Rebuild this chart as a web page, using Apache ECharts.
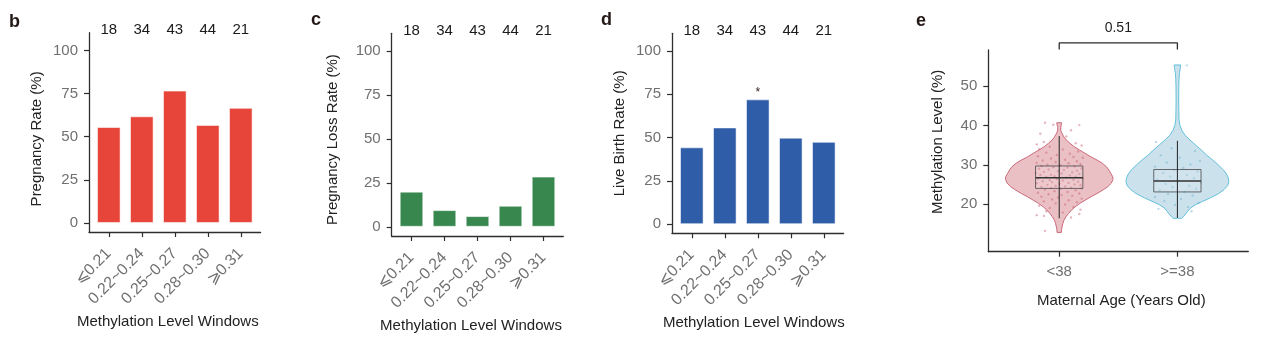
<!DOCTYPE html>
<html><head><meta charset="utf-8">
<script src="https://cdn.jsdelivr.net/npm/echarts@6/dist/echarts.min.js"></script>
<style>html,body{margin:0;padding:0;background:#fff}#c{width:1267px;height:340px}</style>
</head><body><div id="c"></div>
<script>
// ---------------- data ----------------
const windows = ['⩽0.21', '0.22~0.24', '0.25~0.27', '0.28~0.30', '⩾0.31'];
const counts = [18, 34, 43, 44, 21];
const pregnancyRate = [55.6, 61.8, 76.7, 56.8, 66.7];
const lossRate = [20.0, 9.5, 6.1, 12.0, 28.6];
const liveBirthRate = [44.4, 55.9, 72.1, 50.0, 47.6];
const liveBirthSig = ['', '', '*', '', ''];
const rateTicks = [0, 25, 50, 75, 100];

const ageGroups = ['<38', '>=38'];
const methTicks = [20, 30, 40, 50];
// box stats: [lower whisker, q1, median, q3, upper whisker]
const boxLow = [16.4, 24.0, 26.7, 29.7, 37.3];
const boxHigh = [16.5, 23.1, 25.9, 28.8, 36.1];
// violin outline: value and half-width (x units)
const lowViolinY = [12.8, 13.5, 14.2, 15.0, 15.9, 16.8, 17.6, 18.5, 19.3, 20.2, 21.0, 21.9, 22.7, 23.6, 24.4, 25.3, 26.3, 27.0, 27.8, 28.7, 29.5, 30.4, 31.2, 32.0, 32.9, 33.8, 34.6, 35.5, 36.3, 37.0, 37.6, 38.2, 38.8, 39.5, 40.2, 40.7];
const lowViolinW = [0.018, 0.020, 0.024, 0.030, 0.040, 0.058, 0.078, 0.105, 0.135, 0.175, 0.22, 0.27, 0.32, 0.37, 0.41, 0.44, 0.455, 0.452, 0.437, 0.42, 0.40, 0.365, 0.32, 0.27, 0.22, 0.17, 0.127, 0.09, 0.06, 0.042, 0.03, 0.02, 0.013, 0.013, 0.018, 0.021];
const highViolinY = [16.4, 16.8, 17.5, 18.2, 18.9, 19.8, 20.6, 21.6, 22.7, 23.7, 24.7, 25.7, 26.7, 27.7, 28.7, 30.0, 31.2, 32.4, 33.7, 35.0, 36.3, 37.5, 38.8, 40.0, 41.4, 44.0, 47.0, 50.0, 52.0, 53.5, 54.5, 55.4];
const highViolinW = [0.035, 0.05, 0.07, 0.088, 0.106, 0.15, 0.205, 0.28, 0.35, 0.395, 0.425, 0.435, 0.43, 0.415, 0.39, 0.345, 0.30, 0.25, 0.205, 0.155, 0.106, 0.065, 0.037, 0.022, 0.014, 0.012, 0.011, 0.012, 0.014, 0.018, 0.024, 0.028];
// jittered points: [x offset from group centre, value]
const lowJitter = [[-0.12,40.7],[-0.05,40.2],[0.17,40.1],[0.10,38.8],[-0.16,37.9],[0.06,37.2],[-0.13,35.8],[-0.19,35.2],[0.14,35.5],[0.19,34.9],[-0.08,34.6],[-0.17,34.0],[0.03,33.9],[0.16,33.4],[-0.11,33.1],[0.09,32.8],[-0.02,32.5],[-0.18,32.2],[0.12,32.0],[0.20,31.8],[-0.07,31.6],[0.05,31.3],[-0.14,31.1],[0.15,30.9],
[-0.03,30.7],[-0.19,30.5],[0.08,30.4],[0.18,30.2],[-0.10,30.0],[0.01,29.9],[-0.15,29.7],[0.13,29.6],[-0.05,29.4],[0.07,29.3],[0.19,29.1],[-0.17,29.0],[-0.09,28.8],[0.04,28.7],[0.15,28.5],[-0.01,28.4],[-0.13,28.2],[0.11,28.1],[-0.20,27.9],[0.02,27.8],[0.17,27.7],[-0.07,27.5],[-0.16,27.4],[0.09,27.3],[-0.04,27.1],[0.14,27.0],[-0.11,26.9],[0.06,26.8],[0.20,26.6],[-0.18,26.5],[-0.02,26.4],[0.12,26.2],[-0.08,26.1],[0.03,26.0],[-0.14,25.8],[0.16,25.7],[-0.06,25.6],[0.08,25.4],[-0.19,25.3],[0.00,25.2],[0.13,25.0],[-0.10,24.9],[0.18,24.8],[-0.03,24.6],[0.05,24.5],[-0.15,24.4],[0.10,24.2],[-0.07,24.1],[0.19,24.0],[0.01,23.9],
[-0.12,23.7],[0.14,23.5],[-0.04,23.3],[0.07,23.1],[-0.18,22.9],[0.17,22.7],[-0.09,22.5],[0.02,22.3],[0.11,22.1],[-0.15,21.9],[-0.01,21.7],[0.19,21.4],[-0.06,21.2],[0.08,21.0],[-0.13,20.7],[0.15,20.5],[-0.03,20.2],[0.05,19.9],[-0.17,19.6],[0.12,19.3],[-0.08,19.0],[0.18,18.6],[-0.11,18.2],[0.03,17.9],[0.17,17.5],[-0.19,17.2],[0.10,16.6],[-0.13,17.0],[-0.12,13.2]];
const highJitter = [[0.08,55.3],[-0.18,35.8],[-0.05,34.2],[0.15,33.5],[-0.14,32.4],[0.02,31.8],[0.19,31.0],[-0.09,30.6],[0.11,30.1],[-0.19,29.5],[0.05,29.2],[-0.03,28.7],[0.17,28.3],[-0.12,27.9],[0.08,27.4],[-0.06,27.0],[0.14,26.6],[-0.17,26.2],[0.01,25.8],[0.20,25.5],[-0.10,25.1],[0.10,24.7],[-0.04,24.3],[0.16,23.9],[-0.15,23.5],[0.06,23.1],[-0.08,22.6],[0.13,22.2],[-0.19,21.8],[0.03,21.3],[-0.11,20.8],[0.18,20.3],[-0.02,19.8],[0.09,19.3],[-0.16,18.8],[0.12,18.2]];
const bracketX = [1, 1, 2, 2];
const bracketY = [59.3, 61.0, 61.0, 59.3];
const pValue = '0.51';
const pValueY = 64.7;

// ---------------- chart ----------------
const FONT = '"Liberation Sans", Arial, Helvetica, sans-serif';
const AXISC = '#2e2e2e';
const TICKC = '#707070';
const chart = echarts.init(document.getElementById('c'));

const grids = [], xAxis = [], yAxis = [], series = [];
const panels = [
  { grid: { left: 89, top: 32.7, width: 171.6, height: 199.3 }, yName: 'Pregnancy Rate (%)', vals: pregnancyRate, color: '#E8453A', yGap: 45, yPad: [0, 13, 0, 0], xGap: 78, xPad: [0, 14, 0, 0] },
  { grid: { left: 391.7, top: 33.3, width: 171.6, height: 202.7 }, yName: 'Pregnancy Loss Rate (%)', vals: lossRate, color: '#37874F', yGap: 51, yPad: [0, 10, 0, 0], xGap: 76, xPad: [0, 13, 0, 0] },
  { grid: { left: 672, top: 33.3, width: 171.6, height: 200 }, yName: 'Live Birth Rate (%)', vals: liveBirthRate, color: '#2F5DA8', yGap: 44.5, yPad: [0, 0, 0, 0], xGap: 79, xPad: [0, 8, 0, 0], sig: liveBirthSig }
];
const catIdx = windows.map((_, i) => i + 1);

panels.forEach((p, gi) => {
  grids.push(Object.assign({ outerBoundsMode: 'none', containLabel: false }, p.grid));
  xAxis.push({
    type: 'value', gridIndex: gi, min: 0.4, max: 5.6, position: 'bottom',
    axisLine: { show: true, onZero: false, lineStyle: { color: AXISC, width: 1.3 } },
    axisTick: { show: true, customValues: catIdx, length: 5, lineStyle: { color: AXISC, width: 1.2 } },
    axisLabel: { customValues: catIdx, formatter: v => windows[Math.round(v) - 1], rotate: 45, margin: 19, padding: [9, 0, 0, 0], color: TICKC, fontSize: 16, fontFamily: FONT },
    splitLine: { show: false },
    name: 'Methylation Level Windows', nameLocation: 'middle', nameGap: p.xGap,
    nameTextStyle: { fontSize: 15, color: '#222', fontFamily: FONT, padding: p.xPad }
  });
  xAxis.push({
    type: 'value', gridIndex: gi, min: 0.4, max: 5.6, position: 'top',
    axisLine: { show: false }, axisTick: { show: false }, splitLine: { show: false },
    axisLabel: { customValues: catIdx, formatter: v => String(counts[Math.round(v) - 1]), margin: -5, color: '#1a1a1a', fontSize: 15, fontFamily: FONT }
  });
  yAxis.push({
    type: 'value', gridIndex: gi, min: -5.25, max: 110.25,
    axisLine: { show: true, onZero: false, lineStyle: { color: AXISC, width: 1.3 } },
    axisTick: { show: true, customValues: rateTicks, length: 5, lineStyle: { color: AXISC, width: 1.2 } },
    axisLabel: { customValues: rateTicks, margin: 11, color: TICKC, fontSize: 15, fontFamily: FONT },
    splitLine: { show: false },
    name: p.yName, nameLocation: 'middle', nameGap: p.yGap,
    nameTextStyle: { fontSize: 15, color: '#222', fontFamily: FONT, padding: p.yPad }
  });
  const sig = p.sig;
  series.push({
    type: 'bar', xAxisIndex: gi * 2, yAxisIndex: gi, barWidth: 23.6,
    data: p.vals.map((v, i) => [i + 1, v]),
    itemStyle: { color: p.color, borderColor: 'rgba(255,255,255,0.55)', borderWidth: 1 },
    label: sig ? { show: true, position: 'top', distance: 1, formatter: q => sig[q.dataIndex], color: '#3a2020', fontSize: 12, fontFamily: FONT } : { show: false },
    silent: true
  });
});

// panel e
const gE = 3, xE = 6;
grids.push({ left: 988.3, top: 50, width: 260, height: 201.7, outerBoundsMode: 'none', containLabel: false });
xAxis.push({
  type: 'value', gridIndex: gE, min: 0.4, max: 2.6,
  axisLine: { show: true, onZero: false, lineStyle: { color: AXISC, width: 1.3 } },
  axisTick: { show: true, customValues: [1, 2], length: 5, lineStyle: { color: AXISC, width: 1.2 } },
  axisLabel: { customValues: [1, 2], formatter: v => ageGroups[Math.round(v) - 1], margin: 13, color: TICKC, fontSize: 15, fontFamily: FONT },
  splitLine: { show: false },
  name: 'Maternal Age (Years Old)', nameLocation: 'middle', nameGap: 42,
  nameTextStyle: { fontSize: 15, color: '#222', fontFamily: FONT, padding: [0, 0, 0, 6] }
});
yAxis.push({
  type: 'value', gridIndex: gE, min: 7.9, max: 59.2,
  axisLine: { show: true, onZero: false, lineStyle: { color: AXISC, width: 1.3 } },
  axisTick: { show: true, customValues: methTicks, length: 5, lineStyle: { color: AXISC, width: 1.2 } },
  axisLabel: { customValues: methTicks, margin: 11, color: TICKC, fontSize: 15, fontFamily: FONT },
  splitLine: { show: false },
  name: 'Methylation Level (%)', nameLocation: 'middle', nameGap: 42.5,
  nameTextStyle: { fontSize: 15, color: '#222', fontFamily: FONT, padding: [0, 0, 0, 18] }
});

const violinY = [lowViolinY, highViolinY];
const violinW = [lowViolinW, highViolinW];
const violinFill = ['rgba(222,150,158,0.6)', 'rgba(160,200,220,0.55)'];
const violinStroke = ['#C8697A', '#62C0DA'];
const boxes = [boxLow, boxHigh];

series.push({
  type: 'custom', xAxisIndex: xE, yAxisIndex: gE, z: 1, silent: true,
  data: [[1, boxLow[2]], [2, boxHigh[2]]],
  renderItem: (params, api) => {
    const g = params.dataIndex, c = api.value(0);
    const ys = violinY[g], ws = violinW[g], pts = [];
    for (let i = 0; i < ys.length; i++) pts.push(api.coord([c + ws[i], ys[i]]));
    for (let i = ys.length - 1; i >= 0; i--) pts.push(api.coord([c - ws[i], ys[i]]));
    return { type: 'polygon', shape: { points: pts }, style: { fill: violinFill[g], stroke: violinStroke[g], lineWidth: 1 } };
  }
});
series.push({
  type: 'scatter', xAxisIndex: xE, yAxisIndex: gE, z: 2, silent: true, symbolSize: 2.4,
  data: lowJitter.map(p => [1 + p[0], p[1]]),
  itemStyle: { color: 'rgba(196,92,110,0.55)' }
});
series.push({
  type: 'scatter', xAxisIndex: xE, yAxisIndex: gE, z: 2, silent: true, symbolSize: 2.4,
  data: highJitter.map(p => [2 + p[0], p[1]]),
  itemStyle: { color: 'rgba(110,175,205,0.55)' }
});
series.push({
  type: 'custom', xAxisIndex: xE, yAxisIndex: gE, z: 3, silent: true,
  data: [[1, boxLow[2]], [2, boxHigh[2]]],
  renderItem: (params, api) => {
    const g = params.dataIndex, c = api.value(0), b = boxes[g], hw = 0.2;
    const tl = api.coord([c - hw, b[3]]), br = api.coord([c + hw, b[1]]);
    const m1 = api.coord([c - hw, b[2]]), m2 = api.coord([c + hw, b[2]]);
    const w1 = api.coord([c, b[0]]), w2 = api.coord([c, b[4]]);
    return { type: 'group', children: [
      { type: 'rect', shape: { x: tl[0], y: tl[1], width: br[0] - tl[0], height: br[1] - tl[1] }, style: { fill: 'rgba(255,255,255,0.12)', stroke: 'rgba(70,70,70,0.8)', lineWidth: 1 } },
      { type: 'line', shape: { x1: w1[0], y1: w1[1], x2: w2[0], y2: w2[1] }, style: { stroke: '#222', lineWidth: 1 } },
      { type: 'line', shape: { x1: m1[0], y1: m1[1], x2: m2[0], y2: m2[1] }, style: { stroke: '#333', lineWidth: 1.4 } }
    ] };
  }
});
series.push({
  type: 'line', xAxisIndex: xE, yAxisIndex: gE, clip: false, silent: true, symbol: 'none',
  data: bracketX.map((x, i) => [x, bracketY[i]]),
  lineStyle: { color: '#2b2b2b', width: 1.3 }
});
series.push({
  type: 'custom', xAxisIndex: xE, yAxisIndex: gE, silent: true, clip: false,
  data: [[(bracketX[0] + bracketX[3]) / 2, pValueY]],
  renderItem: (params, api) => {
    const pt = api.coord([api.value(0), api.value(1)]);
    return { type: 'text', x: pt[0], y: pt[1], style: { text: pValue, fill: '#1f1f1f', fontSize: 14, fontFamily: FONT, align: 'center', verticalAlign: 'middle' } };
  }
});

const letterStyle = { fontSize: 18, fontWeight: 'bold', color: '#231815', fontFamily: FONT };
chart.setOption({
  animation: false,
  title: [
    { text: 'b', left: 9, top: 13, padding: 0, textStyle: letterStyle },
    { text: 'c', left: 311, top: 11, padding: 0, textStyle: letterStyle },
    { text: 'd', left: 601, top: 11, padding: 0, textStyle: letterStyle },
    { text: 'e', left: 916, top: 12, padding: 0, textStyle: letterStyle }
  ],
  grid: grids, xAxis: xAxis, yAxis: yAxis, series: series
});
</script></body></html>
